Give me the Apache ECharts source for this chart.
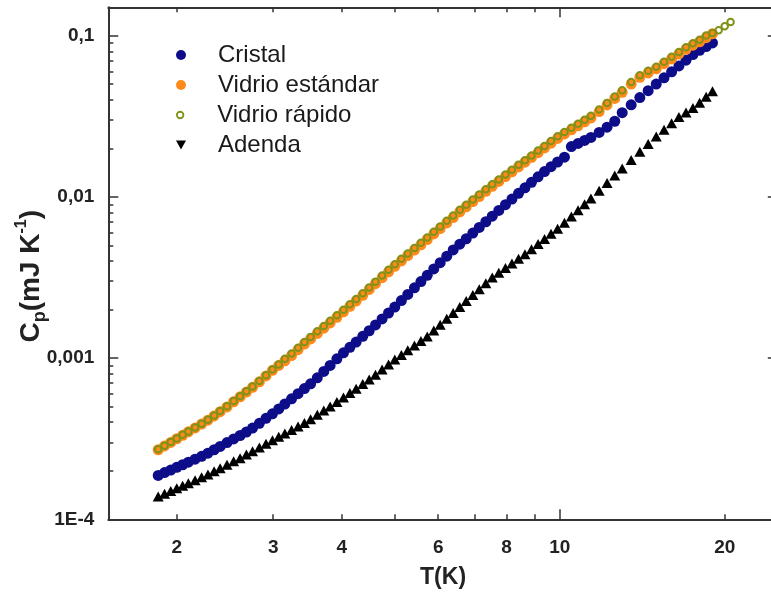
<!DOCTYPE html>
<html><head><meta charset="utf-8">
<script src="https://cdn.jsdelivr.net/npm/echarts@6/dist/echarts.min.js"></script>
<style>html,body{margin:0;padding:0;background:#fff}#c{width:771px;height:592px}</style>
</head><body><div id="c"></div>
<script>
const temperatures = [1.85,1.90,1.95,2.00,2.05,2.10,2.16,2.22,2.28,2.34,2.40,2.47,2.54,2.61,2.68,2.75,2.83,2.91,2.99,3.07,3.15,3.24,3.33,3.42,3.51,3.61,3.71,3.81,3.92,4.03,4.14,4.25,4.37,4.49,4.61,4.74,4.87,5.00,5.14,5.28,5.43,5.58,5.73,5.89,6.05,6.22,6.39,6.57,6.75,6.94,7.13,7.33,7.53,7.74,7.96,8.18,8.41,8.64,8.88,9.13,9.38,9.64,9.91,10.2,10.5,10.8,11.1,11.4,11.8,12.2,12.6,13.0,13.5,14.0,14.5,15.0,15.5,16.0,16.5,17.0,17.5,18.0,18.5,19.0,19.5,20.0,20.5];

const cristal = [1.87e-4,1.95e-4,2.02e-4,2.10e-4,2.18e-4,2.26e-4,2.36e-4,2.46e-4,2.57e-4,2.70e-4,
2.83e-4,2.99e-4,3.15e-4,3.31e-4,3.48e-4,3.68e-4,3.94e-4,4.23e-4,4.51e-4,4.84e-4,
5.19e-4,5.59e-4,6.02e-4,6.47e-4,6.93e-4,7.55e-4,8.27e-4,9.01e-4,9.90e-4,1.078e-3,
1.166e-3,1.258e-3,1.364e-3,1.478e-3,1.605e-3,1.751e-3,1.904e-3,2.074e-3,2.274e-3,2.484e-3,
2.727e-3,2.985e-3,3.264e-3,3.574e-3,3.909e-3,4.29e-3,4.69e-3,5.09e-3,5.50e-3,5.96e-3,
6.46e-3,7.01e-3,7.59e-3,8.24e-3,8.95e-3,9.70e-3,1.052e-2,1.139e-2,1.231e-2,1.331e-2,
1.436e-2,1.540e-2,1.646e-2,1.763e-2,2.053e-2,2.146e-2,2.241e-2,2.338e-2,2.511e-2,2.708e-2,
2.946e-2,3.329e-2,3.723e-2,4.131e-2,4.56e-2,5.01e-2,5.48e-2,5.97e-2,6.49e-2,7.05e-2,
7.64e-2,8.12e-2,8.56e-2,9.01e-2];

const vidrioEstandar = [2.70e-4,2.85e-4,3.00e-4,3.16e-4,3.32e-4,3.49e-4,3.69e-4,3.90e-4,4.12e-4,4.38e-4,
4.65e-4,4.98e-4,5.36e-4,5.75e-4,6.16e-4,6.59e-4,7.13e-4,7.75e-4,8.40e-4,9.00e-4,
9.62e-4,1.037e-3,1.127e-3,1.221e-3,1.315e-3,1.422e-3,1.534e-3,1.652e-3,1.789e-3,1.936e-3,
2.094e-3,2.259e-3,2.453e-3,2.666e-3,2.894e-3,3.154e-3,3.427e-3,3.711e-3,4.009e-3,4.33e-3,
4.68e-3,5.04e-3,5.44e-3,5.89e-3,6.36e-3,6.89e-3,7.44e-3,8.07e-3,8.68e-3,9.35e-3,
1.004e-2,1.082e-2,1.163e-2,1.247e-2,1.337e-2,1.432e-2,1.534e-2,1.641e-2,1.756e-2,1.881e-2,
2.011e-2,2.154e-2,2.306e-2,2.456e-2,2.606e-2,2.762e-2,2.923e-2,3.089e-2,3.383e-2,3.72e-2,
4.08e-2,4.45e-2,5.01e-2,5.52e-2,5.87e-2,6.23e-2,6.70e-2,7.18e-2,7.70e-2,8.23e-2,
8.73e-2,9.17e-2,9.72e-2,0.1029];

const vidrioRapido = [2.72e-4,2.86e-4,3.02e-4,3.17e-4,3.34e-4,3.51e-4,3.71e-4,3.92e-4,4.15e-4,4.41e-4,
4.69e-4,5.02e-4,5.41e-4,5.80e-4,6.22e-4,6.66e-4,7.20e-4,7.83e-4,8.50e-4,9.12e-4,
9.91e-4,1.068e-3,1.161e-3,1.258e-3,1.354e-3,1.465e-3,1.580e-3,1.702e-3,1.843e-3,1.994e-3,
2.157e-3,2.327e-3,2.527e-3,2.746e-3,2.981e-3,3.249e-3,3.530e-3,3.822e-3,4.129e-3,4.46e-3,
4.82e-3,5.19e-3,5.60e-3,6.07e-3,6.55e-3,7.10e-3,7.66e-3,8.31e-3,8.94e-3,9.63e-3,
1.034e-2,1.114e-2,1.198e-2,1.284e-2,1.377e-2,1.475e-2,1.580e-2,1.690e-2,1.809e-2,1.937e-2,
2.071e-2,2.219e-2,2.375e-2,2.530e-2,2.684e-2,2.845e-2,3.011e-2,3.182e-2,3.48e-2,3.83e-2,
4.20e-2,4.58e-2,5.16e-2,5.69e-2,6.05e-2,6.42e-2,6.90e-2,7.40e-2,7.93e-2,8.48e-2,
8.99e-2,9.45e-2,0.1001,0.1040,0.1079,0.1145,0.1217];

const adenda = [1.386e-4,1.443e-4,1.499e-4,1.557e-4,1.616e-4,1.676e-4,1.748e-4,1.821e-4,1.896e-4,1.984e-4,
2.075e-4,2.179e-4,2.288e-4,2.396e-4,2.520e-4,2.643e-4,2.789e-4,2.940e-4,3.094e-4,3.247e-4,
3.402e-4,3.583e-4,3.769e-4,3.958e-4,4.18e-4,4.45e-4,4.73e-4,5.01e-4,5.34e-4,5.70e-4,
6.07e-4,6.46e-4,6.90e-4,7.36e-4,7.87e-4,8.49e-4,9.14e-4,9.80e-4,1.047e-3,1.117e-3,
1.195e-3,1.276e-3,1.362e-3,1.482e-3,1.610e-3,1.753e-3,1.905e-3,2.078e-3,2.257e-3,2.460e-3,
2.673e-3,2.911e-3,3.162e-3,3.385e-3,3.621e-3,3.868e-3,4.138e-3,4.41e-3,4.74e-3,5.10e-3,
5.48e-3,5.90e-3,6.35e-3,6.92e-3,7.57e-3,8.26e-3,8.99e-3,9.77e-3,1.093e-2,1.220e-2,
1.357e-2,1.502e-2,1.696e-2,1.903e-2,2.130e-2,2.368e-2,2.607e-2,2.866e-2,3.129e-2,3.339e-2,
3.557e-2,3.843e-2,4.18e-2,4.52e-2];

const seriesNames = ['Cristal', 'Vidrio estándar', 'Vidrio rápido', 'Adenda'];
const xLabelValues = [2, 3, 4, 6, 8, 10, 20];
const xMajorTicks = [10];
const xMinorTicks = [2, 3, 4, 5, 6, 7, 8, 9, 20];
const yTickValues = [1e-4, 1e-3, 1e-2, 1e-1];
const yTickLabels = ['1E-4', '0,001', '0,01', '0,1'];
const yMinorTicks = [2e-4,3e-4,4e-4,5e-4,6e-4,7e-4,8e-4,9e-4,2e-3,3e-3,4e-3,5e-3,6e-3,7e-3,8e-3,9e-3,2e-2,3e-2,4e-2,5e-2,6e-2,7e-2,8e-2,9e-2];

const FONT = "'Liberation Sans', Arial, sans-serif";
const AX = '#333333';
const COLORS = ['#0d0d8a', '#ff8a1c', '#7f9218', '#000000'];

const pair = arr => arr.map((c, i) => [temperatures[i], c]);

const lineStyle = { color: AX, width: 2 };
const tickStyle = { color: AX, width: 1.5 };

function xAxisDef(pos, ticks, len, showLine, withLabels) {
  const a = {
    type: 'log', logBase: 10, min: 1.5, max: 25, position: pos, gridIndex: 0,
    axisLine: { show: showLine, onZero: false, lineStyle },
    axisTick: { show: true, inside: true, length: len, customValues: ticks, lineStyle: tickStyle },
    axisLabel: { show: false },
    splitLine: { show: false }, minorTick: { show: false }, minorSplitLine: { show: false }
  };
  if (withLabels) {
    a.axisLabel = { show: true, customValues: xLabelValues, formatter: v => String(Math.round(v)),
      margin: 19, fontSize: 19, fontWeight: 'bold', color: '#222', fontFamily: FONT };
    a.name = 'T(K)';
    a.nameLocation = 'middle';
    a.nameGap = 47;
    a.nameMoveOverlap = false;
    a.nameTextStyle = { fontSize: 23, fontWeight: 'bold', color: '#222', fontFamily: FONT };
  }
  return a;
}
function yLabel(v) {
  const i = yTickValues.findIndex(t => Math.abs(Math.log10(t) - Math.log10(v)) < 1e-6);
  return i >= 0 ? yTickLabels[i] : '';
}
function yAxisDef(pos, ticks, len, showLine, withLabels) {
  const a = {
    type: 'log', logBase: 10, min: 1e-4, max: 0.15, position: pos, gridIndex: 0,
    axisLine: { show: showLine, onZero: false, lineStyle },
    axisTick: { show: true, inside: true, length: len, customValues: ticks, lineStyle: tickStyle },
    axisLabel: { show: false },
    splitLine: { show: false }, minorTick: { show: false }, minorSplitLine: { show: false }
  };
  if (withLabels) {
    a.axisLabel = { show: true, customValues: yTickValues, formatter: yLabel,
      margin: 14, fontSize: 19, fontWeight: 'bold', color: '#222', fontFamily: FONT };
    a.name = '{b|C}{s|p}{b|(mJ K}{t|-1}{b|)}';
    a.nameLocation = 'middle';
    a.nameRotate = 90;
    a.nameGap = 59;
    a.nameMoveOverlap = false;
    a.nameTextStyle = {
      color: '#222', padding: [0, 26, 0, 0],
      rich: {
        b: { fontSize: 28, fontWeight: 'bold', color: '#222', fontFamily: FONT, lineHeight: 36 },
        s: { fontSize: 18, fontWeight: 'bold', color: '#222', fontFamily: FONT, lineHeight: 18, verticalAlign: 'bottom' },
        t: { fontSize: 16, fontWeight: 'bold', color: '#222', fontFamily: FONT, lineHeight: 16, verticalAlign: 'top' }
      }
    };
  }
  return a;
}

const legendIcons = ['circle', 'circle', 'circle', 'path://M0,0 L10,0 L5,9 Z'];
const legendSizes = [10, 10, 6.5, 9];
const legendRows = [55, 85, 115, 145];
const legendStyles = [
  { color: COLORS[0], opacity: 1 },
  { color: COLORS[1], opacity: 1 },
  { color: 'rgba(0,0,0,0)', borderColor: COLORS[2], borderWidth: 1.8, opacity: 1 },
  { color: COLORS[3], opacity: 1 }
];

const option = {
  animation: false,
  backgroundColor: '#ffffff',
  grid: { left: 108.3, top: 7.3, width: 669.5, height: 512, containLabel: false, outerBoundsMode: 'none' },
  xAxis: [
    xAxisDef('bottom', xMajorTicks, 10, true, true),
    xAxisDef('bottom', xMinorTicks, 5, false, false),
    xAxisDef('top', xMajorTicks, 10, true, false),
    xAxisDef('top', xMinorTicks, 5, false, false)
  ],
  yAxis: [
    yAxisDef('left', yTickValues, 10, true, true),
    yAxisDef('left', yMinorTicks, 5, false, false),
    yAxisDef('right', yTickValues, 10, true, false),
    yAxisDef('right', yMinorTicks, 5, false, false)
  ],
  legend: seriesNames.map((name, i) => ({
    data: [{ name, icon: legendIcons[i], itemStyle: legendStyles[i] }],
    left: 176, top: legendRows[i] - 13,
    itemWidth: 64, itemHeight: legendSizes[i], padding: 0, selectedMode: false,
    textStyle: { fontSize: 24, color: '#1a1a1a', fontFamily: FONT, lineHeight: 26 }
  })),
  series: [
    { type: 'scatter', name: seriesNames[0], data: pair(cristal), symbol: 'circle', symbolSize: 11,
      itemStyle: { color: COLORS[0], opacity: 1 } },
    { type: 'scatter', name: seriesNames[1], data: pair(vidrioEstandar), symbol: 'circle', symbolSize: 11,
      itemStyle: { color: COLORS[1], opacity: 1 } },
    { type: 'scatter', name: seriesNames[2], data: pair(vidrioRapido), symbol: 'circle', symbolSize: 6.5,
      itemStyle: { color: 'rgba(0,0,0,0)', borderColor: COLORS[2], borderWidth: 2, opacity: 1 } },
    { type: 'scatter', name: seriesNames[3], data: pair(adenda), symbol: 'triangle', symbolSize: [11, 10],
      itemStyle: { color: COLORS[3], opacity: 1 } }
  ].map(s => Object.assign(s, { xAxisIndex: 0, yAxisIndex: 0, emphasis: { disabled: true } }))
};

const chart = echarts.init(document.getElementById('c'), null, { renderer: 'canvas' });
chart.setOption(option);
</script>
</body></html>
